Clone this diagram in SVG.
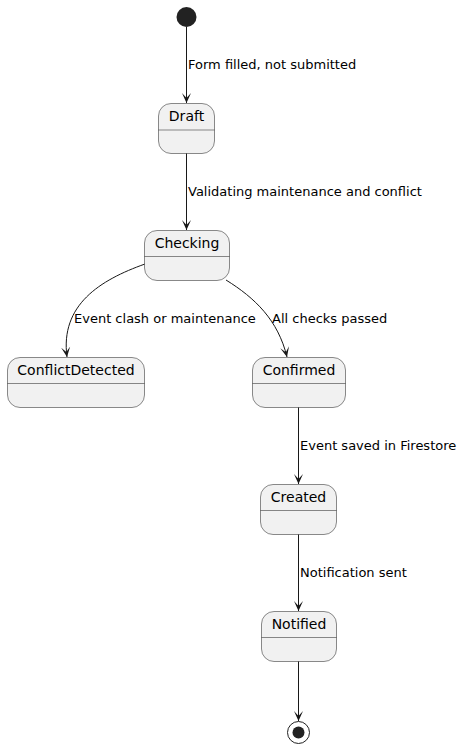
<svg xmlns="http://www.w3.org/2000/svg" width="464" height="749" viewBox="0 0 464 749">
<defs>
<style>
.st{fill:#F1F1F1;stroke:#181818;stroke-width:0.5}
.sep{stroke:#181818;stroke-width:0.5}
.nm{font-family:"DejaVu Sans",sans-serif;font-size:14px;fill:#000;text-anchor:middle}
.lb{font-family:"DejaVu Sans",sans-serif;font-size:13px;fill:#000}
.ln{fill:none;stroke:#181818;stroke-width:1}
</style>
<marker id="ah" viewBox="0 0 10 10" refX="10" refY="5" markerWidth="10" markerHeight="10" markerUnits="userSpaceOnUse" orient="auto">
<path d="M10,5 L0,0.5 L5,5 L0,9.5 Z" fill="#181818"/>
</marker>
</defs>
<rect width="464" height="749" fill="#FFFFFF"/>
<g id="connectors">
<path class="ln" d="M186.5,27 L186.5,103" marker-end="url(#ah)"/>
<path class="ln" d="M186.5,153 L186.5,230" marker-end="url(#ah)"/>
<path class="ln" d="M145,264 C100,280 60,305 67,357" marker-end="url(#ah)"/>
<path class="ln" d="M226,280 C255,298 278,320 287,357" marker-end="url(#ah)"/>
<path class="ln" d="M298.5,407 L298.5,484" marker-end="url(#ah)"/>
<path class="ln" d="M298.5,534 L298.5,611" marker-end="url(#ah)"/>
<path class="ln" d="M298.5,661 L298.5,721" marker-end="url(#ah)"/>
<text class="lb" x="188" y="69">Form filled, not submitted</text>
<text class="lb" x="188" y="196">Validating maintenance and conflict</text>
<text class="lb" x="74" y="323">Event clash or maintenance</text>
<text class="lb" x="272" y="323">All checks passed</text>
<text class="lb" x="300" y="450">Event saved in Firestore</text>
<text class="lb" x="300" y="577">Notification sent</text>
</g>
<g id="start"><circle cx="186.5" cy="17" r="10" fill="#222222"/></g>
<g id="Draft">
<rect class="st" x="158.5" y="103.5" width="56" height="50" rx="12.5"/>
<line class="sep" x1="158.5" y1="130" x2="214.5" y2="130"/>
<text class="nm" x="186.5" y="121">Draft</text>
</g>
<g id="Checking">
<rect class="st" x="144.5" y="230.5" width="85" height="50" rx="12.5"/>
<line class="sep" x1="144.5" y1="256.5" x2="229.5" y2="256.5"/>
<text class="nm" x="187" y="248">Checking</text>
</g>
<g id="ConflictDetected">
<rect class="st" x="7.5" y="357.5" width="137" height="50" rx="12.5"/>
<line class="sep" x1="7.5" y1="383.5" x2="144.5" y2="383.5"/>
<text class="nm" x="76" y="375">ConflictDetected</text>
</g>
<g id="Confirmed">
<rect class="st" x="252.5" y="357.5" width="93" height="50" rx="12.5"/>
<line class="sep" x1="252.5" y1="383.5" x2="345.5" y2="383.5"/>
<text class="nm" x="299" y="375">Confirmed</text>
</g>
<g id="Created">
<rect class="st" x="260.5" y="484.5" width="76" height="50" rx="12.5"/>
<line class="sep" x1="260.5" y1="510.5" x2="336.5" y2="510.5"/>
<text class="nm" x="298.5" y="502">Created</text>
</g>
<g id="Notified">
<rect class="st" x="261.5" y="611.5" width="75" height="50" rx="12.5"/>
<line class="sep" x1="261.5" y1="637.5" x2="336.5" y2="637.5"/>
<text class="nm" x="299" y="629">Notified</text>
</g>
<g id="end">
<circle cx="298.5" cy="732.5" r="11" fill="none" stroke="#222222" stroke-width="1"/>
<circle cx="298.5" cy="732.5" r="6" fill="#222222"/>
</g>
</svg>
